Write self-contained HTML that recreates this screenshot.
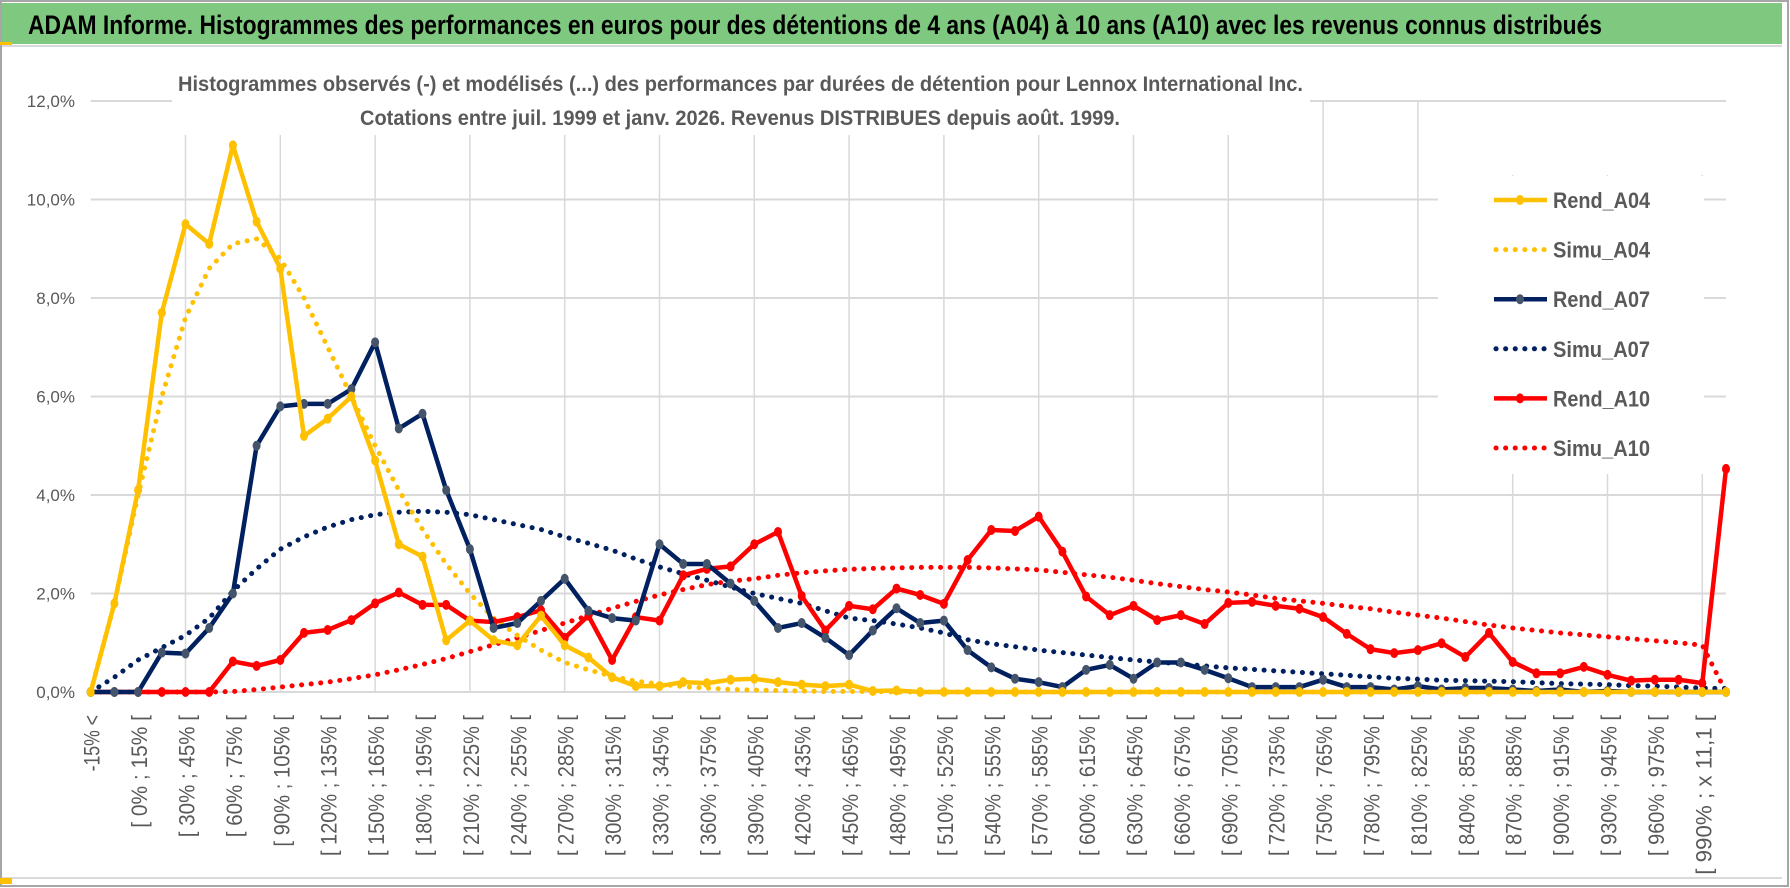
<!DOCTYPE html>
<html><head><meta charset="utf-8"><style>
html,body{margin:0;padding:0;background:#fff}
svg{display:block}
.nt{font-family:"Liberation Sans Narrow","Liberation Sans",sans-serif}
.ax{font-family:"Liberation Sans",sans-serif}
</style></head><body>
<svg id="chart" width="1790" height="888" viewBox="0 0 1790 888" xmlns="http://www.w3.org/2000/svg">
<rect x="0" y="0" width="1790" height="888" fill="#fff"/>
<rect x="1" y="1" width="1787" height="885" fill="none" stroke="#a6a6a6" stroke-width="2"/>
<rect x="2" y="3" width="1780" height="41" fill="#7ec87f"/>
<line x1="2" y1="46" x2="1782" y2="46" stroke="#d9d9d9" stroke-width="2"/>
<line x1="2" y1="878" x2="1782" y2="878" stroke="#d9d9d9" stroke-width="2"/>
<rect x="0" y="878" width="12" height="6" fill="#ffc000"/>
<rect x="0" y="42" width="12" height="3" fill="#ffc000"/>
<text class="nt" x="28" y="34" font-size="27" font-weight="bold" fill="#000" textLength="1574" lengthAdjust="spacingAndGlyphs">ADAM Informe. Histogrammes des performances en euros pour des détentions de 4 ans (A04) à 10 ans (A10) avec les revenus connus distribués</text>
<g id="grid"></g>
<rect x="172" y="55" width="1138" height="80" fill="#fff"/>
<text class="nt" x="178" y="91" font-size="21" font-weight="bold" fill="#595959" textLength="1125" lengthAdjust="spacingAndGlyphs">Histogrammes observés (-) et modélisés (...) des performances par durées de détention pour Lennox International Inc.</text>
<text class="nt" x="360" y="125" font-size="21" font-weight="bold" fill="#595959" textLength="760" lengthAdjust="spacingAndGlyphs">Cotations entre juil. 1999 et janv. 2026. Revenus DISTRIBUES depuis août. 1999.</text>
<rect x="1438" y="176" width="266" height="298" fill="#fff"/>
<g id="yaxis"></g>
<g id="xaxis"></g>
<g id="series"></g>
<g id="legend"></g>
</svg>
<script>
const rendA04=[0,1.8,4.1,7.7,9.5,9.1,11.1,9.55,8.6,5.2,5.55,6.0,4.7,3.0,2.75,1.05,1.45,1.05,0.95,1.55,0.95,0.7,0.3,0.12,0.12,0.2,0.18,0.25,0.27,0.2,0.15,0.12,0.15,0.02,0.03,0,0,0,0,0,0,0,0,0,0,0,0,0,0,0,0,0,0,0,0,0,0,0,0,0,0,0,0,0,0,0,0,0,0,0];
const simuA04=[0,1.8,4.0,6.0,7.6,8.6,9.1,9.2,8.8,8.0,7.0,6.0,5.0,4.1,3.3,2.6,2.0,1.5,1.15,0.85,0.6,0.45,0.32,0.22,0.16,0.11,0.08,0.05,0.04,0.03,0.02,0.01,0.01,0.01,0,0,0,0,0,0,0,0,0,0,0,0,0,0,0,0,0,0,0,0,0,0,0,0,0,0,0,0,0,0,0,0,0,0,0,0];
const rendA07=[0,0,0,0.8,0.78,1.3,2.0,5.0,5.8,5.85,5.85,6.15,7.1,5.35,5.65,4.1,2.9,1.3,1.4,1.85,2.3,1.65,1.5,1.45,3.0,2.6,2.6,2.2,1.85,1.3,1.4,1.1,0.75,1.25,1.7,1.4,1.45,0.85,0.5,0.27,0.2,0.1,0.45,0.55,0.27,0.6,0.6,0.45,0.28,0.1,0.1,0.1,0.25,0.1,0.1,0.05,0.12,0.05,0.08,0.08,0.05,0.02,0.05,0,0.02,0,0,0,0,0];
const simuA07=[0,0.3,0.65,0.9,1.15,1.5,2.05,2.5,2.9,3.15,3.35,3.5,3.6,3.65,3.67,3.65,3.6,3.5,3.4,3.3,3.15,3.02,2.88,2.7,2.54,2.4,2.27,2.13,2.0,1.9,1.8,1.65,1.5,1.45,1.38,1.3,1.2,1.06,0.98,0.92,0.85,0.8,0.75,0.7,0.65,0.61,0.57,0.53,0.49,0.46,0.43,0.4,0.37,0.34,0.31,0.28,0.26,0.24,0.23,0.22,0.21,0.19,0.17,0.16,0.15,0.13,0.12,0.1,0.08,0.07];
const rendA10=[0,0,0,0,0,0,0.62,0.53,0.65,1.2,1.26,1.46,1.8,2.02,1.77,1.77,1.45,1.42,1.52,1.66,1.1,1.55,0.65,1.52,1.45,2.37,2.5,2.55,3.0,3.25,1.95,1.25,1.75,1.68,2.1,1.97,1.79,2.68,3.29,3.27,3.56,2.85,1.94,1.56,1.75,1.46,1.56,1.38,1.81,1.83,1.75,1.69,1.52,1.18,0.87,0.79,0.85,0.99,0.71,1.2,0.61,0.38,0.38,0.51,0.35,0.23,0.25,0.25,0.18,4.53];
const simuA10=[0,0,0,0,0,0,0.01,0.05,0.1,0.15,0.2,0.27,0.35,0.45,0.56,0.68,0.82,0.96,1.1,1.25,1.4,1.55,1.7,1.84,1.97,2.08,2.18,2.25,2.3,2.37,2.42,2.46,2.49,2.51,2.52,2.53,2.53,2.53,2.52,2.5,2.48,2.43,2.38,2.33,2.27,2.2,2.14,2.08,2.03,1.97,1.9,1.85,1.8,1.74,1.69,1.62,1.56,1.5,1.43,1.36,1.3,1.25,1.2,1.16,1.12,1.08,1.04,1.0,0.95,0];
const yTicks=[0,2,4,6,8,10,12];
const yTickLabels=["0,0%","2,0%","4,0%","6,0%","8,0%","10,0%","12,0%"];
const categories=[];
categories.push("-15% <");categories.push("[ -15% ; 0% [");
for(let i=0;i<66;i++){categories.push("[ "+(i*15)+"% ; "+(i*15+15)+"% [");}
categories.push("[ 990% ; x 11,1 [");categories.push("x 11,1 <");
const seriesNames=["Rend_A04","Simu_A04","Rend_A07","Simu_A07","Rend_A10","Simu_A10"];

const NS="http://www.w3.org/2000/svg";
const X0=90.7, DX=23.7, Y0=692, PY=49.25;
const xs=i=>X0+i*DX;
const ys=v=>Y0-v*PY;
function mk(tag,attrs,parent){const e=document.createElementNS(NS,tag);for(const k in attrs)e.setAttribute(k,attrs[k]);parent.appendChild(e);return e;}

const grid=document.getElementById('grid');
yTicks.forEach((t,i)=>{
  if(i===0)return;
  const y=ys(t);
  const l=mk('line',{x1:X0,y1:y,x2:1726,y2:y,stroke:'#d9d9d9','stroke-width':2},grid);
  
  
});
for(let k=1;k<=17;k++){
  const x=X0+k*4*DX;
  let top=135; if(x>1310)top=100; if(x>1438)top=175;
  const l=mk('line',{x1:x,y1:top,x2:x,y2:Y0,stroke:'#d9d9d9','stroke-width':1.5},grid);
  
  
}
const base=mk('line',{x1:X0,y1:Y0,x2:1726,y2:Y0,stroke:'#d9d9d9','stroke-width':2},grid);



const ya=document.getElementById('yaxis');
yTicks.forEach((t,i)=>{
  const tx=mk('text',{x:75,y:ys(t)+6,'text-anchor':'end','font-size':17,fill:'#595959',class:'nt'},ya);
  tx.textContent=yTickLabels[i];
  
  
});
const xa=document.getElementById('xaxis');
categories.forEach((c,i)=>{
  if(i%2!==0)return;
  const x=xs(i)+9;
  const tx=mk('text',{x:x,y:715,transform:'rotate(-90 '+x+' 715)','text-anchor':'end','font-size':22,fill:'#595959',class:'ax',textLength:(c.length*9.4).toFixed(1),lengthAdjust:'spacingAndGlyphs'},xa);
  tx.textContent=c;
  
  
});

const sg=document.getElementById('series');
function dotted(data,color,name){
  const p=mk('polyline',{points:data.map((v,i)=>xs(i)+','+ys(v)).join(' '),fill:'none',stroke:color,'stroke-width':5,'stroke-linecap':'round','stroke-dasharray':'0.1 9.5'},sg);
  
  
}
function solid(data,color,mcol,name){
  const g=mk('g',{},sg);
  
  
  mk('polyline',{points:data.map((v,i)=>xs(i)+','+ys(v)).join(' '),fill:'none',stroke:color,'stroke-width':4.5,'stroke-linejoin':'round'},g);
  data.forEach((v,i)=>{
    const c=mk('ellipse',{cx:xs(i),cy:ys(v),rx:4,ry:5,fill:mcol},g);
    
    
  });
}
dotted(simuA10,'#ff0000','simu-a10-line');
dotted(simuA07,'#002060','simu-a07-line');
dotted(simuA04,'#ffc000','simu-a04-line');
solid(rendA10,'#ff0000','#ff0000','rend-a10-line');
solid(rendA07,'#002060','#44546a','rend-a07-line');
solid(rendA04,'#ffc000','#ffc000','rend-a04-line');

const lg=document.getElementById('legend');
const lcol=['#ffc000','#ffc000','#002060','#002060','#ff0000','#ff0000'];
const lmark=['#ffc000',null,'#44546a',null,'#ff0000',null];
seriesNames.forEach((n,i)=>{
  const y=200+i*49.6;
  const g=mk('g',{},lg);
  
  
  if(lmark[i]){
    mk('line',{x1:1494,y1:y,x2:1547,y2:y,stroke:lcol[i],'stroke-width':4.5},g);
    mk('ellipse',{cx:1520,cy:y,rx:4,ry:5,fill:lmark[i]},g);
  } else {
    mk('line',{x1:1496,y1:y,x2:1545,y2:y,stroke:lcol[i],'stroke-width':5,'stroke-linecap':'round','stroke-dasharray':'0.1 9.5'},g);
  }
  const t=mk('text',{x:1553,y:y+8,'font-size':22,'font-weight':'bold',fill:'#595959',class:'nt',textLength:'97',lengthAdjust:'spacingAndGlyphs'},g);
  t.textContent=n;
});
</script>
</body></html>
